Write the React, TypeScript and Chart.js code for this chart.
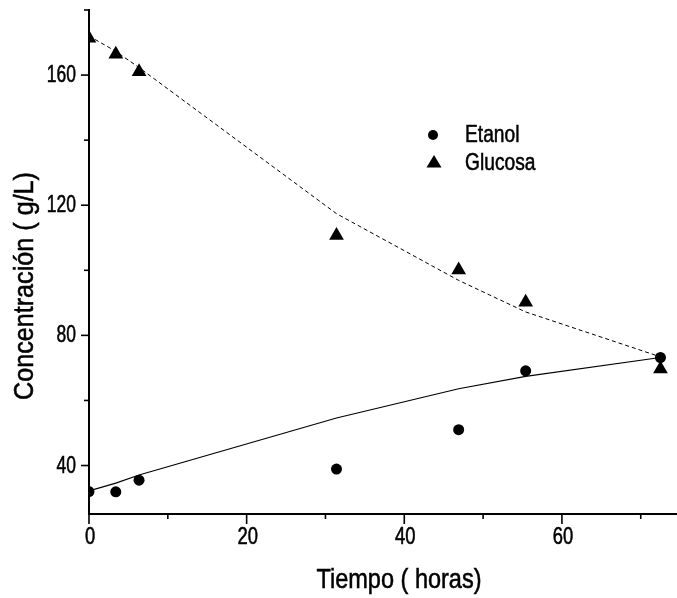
import React, { useEffect, useRef } from 'react';
import { Chart, registerables } from 'chart.js';

Chart.register(...registerables);

// ---- data ----
const tiempo = [0, 3.4, 6.35, 31.4, 46.9, 55.4, 72.5];
const etanol = [32.0, 31.9, 35.5, 38.9, 51.0, 69.1, 73.2];
const glucosa = [171.3, 166.4, 161.0, 110.7, 100.1, 90.2, 69.7];
const etanolAjuste = [32.2, 34.6, 37.1, 54.6, 63.6, 67.4, 73.2];
const glucosaAjuste = [172.0, 167.3, 162.3, 117.4, 96.9, 87.2, 73.4];

const xMajorTicks = [0, 20, 40, 60];
const xTickLabels = ['0', '20', '40', '60'];
const yMajorTicks = [40, 80, 120, 160];
const yTickLabels = ['40', '80', '120', '160'];
const seriesNames = ['Etanol', 'Glucosa'];
const xTitle = 'Tiempo ( horas)';
const yTitle = 'Concentración ( g/L)';

const FAMILY = '"Liberation Sans", Arial, sans-serif';

function drawScaled(ctx: CanvasRenderingContext2D, text: string, x: number, y: number, size: number, sx: number, align: CanvasTextAlign) {
  ctx.save();
  ctx.font = `${size}px ${FAMILY}`;
  ctx.textAlign = align;
  ctx.textBaseline = 'alphabetic';
  ctx.translate(x, y);
  ctx.scale(sx, 1);
  ctx.fillText(text, 0, 0);
  ctx.lineWidth = 0.55;
  ctx.strokeStyle = '#000';
  ctx.strokeText(text, 0, 0);
  ctx.restore();
}

function drawFit(ctx: CanvasRenderingContext2D, text: string, x: number, y: number, size: number, width: number, align: CanvasTextAlign) {
  ctx.save();
  ctx.font = `${size}px ${FAMILY}`;
  const w = ctx.measureText(text).width;
  ctx.restore();
  drawScaled(ctx, text, x, y, size, width / w, align);
}

const decor = {
  id: 'decor',
  afterDraw(chart: any) {
    const { ctx, chartArea: ca, scales } = chart;
    const xs = scales.x;
    const ys = scales.y;
    ctx.save();
    ctx.strokeStyle = '#000';
    ctx.fillStyle = '#000';
    ctx.lineWidth = 1.6;

    // x ticks
    xs.ticks.forEach((t: any) => {
      const px = xs.getPixelForValue(t.value);
      const major = xMajorTicks.includes(t.value);
      ctx.beginPath();
      ctx.moveTo(px, ca.bottom);
      ctx.lineTo(px, ca.bottom + (major ? 10 : 5));
      ctx.stroke();
    });
    // y ticks
    ys.ticks.forEach((t: any) => {
      const py = ys.getPixelForValue(t.value);
      const major = yMajorTicks.includes(t.value);
      ctx.beginPath();
      ctx.moveTo(ca.left, py);
      ctx.lineTo(ca.left - (major ? 8 : 5), py);
      ctx.stroke();
    });

    // tick labels
    xMajorTicks.forEach((v, i) => {
      const px = xs.getPixelForValue(v);
      drawScaled(ctx, xTickLabels[i], px + 1, ca.bottom + 30, 23, 0.8, 'center');
    });
    yMajorTicks.forEach((v, i) => {
      const py = ys.getPixelForValue(v);
      drawScaled(ctx, yTickLabels[i], ca.left - 13, py + 7, 23, 0.76, 'right');
    });

    // axis titles
    drawFit(ctx, xTitle, 399, 588, 28, 165, 'center');
    ctx.save();
    ctx.translate(33, 286);
    ctx.rotate(-Math.PI / 2);
    drawFit(ctx, yTitle, 0, 0, 28, 228, 'center');
    ctx.restore();

    // legend
    ctx.beginPath();
    ctx.arc(433, 135, 5, 0, Math.PI * 2);
    ctx.fill();
    ctx.beginPath();
    ctx.moveTo(434, 155);
    ctx.lineTo(441.5, 167.5);
    ctx.lineTo(426.5, 167.5);
    ctx.closePath();
    ctx.fill();
    drawScaled(ctx, seriesNames[0], 465, 142, 24, 0.8, 'left');
    drawScaled(ctx, seriesNames[1], 465, 170, 24, 0.8, 'left');

    ctx.restore();
  },
};

export default function App() {
  const ref = useRef<HTMLCanvasElement>(null);
  useEffect(() => {
    document.body.style.margin = '0';
    const toXY = (ys: number[]) => tiempo.map((t, i) => ({ x: t, y: ys[i] }));
    const chart = new Chart(ref.current as HTMLCanvasElement, {
      type: 'scatter',
      data: {
        datasets: [
          {
            label: seriesNames[0],
            data: toXY(etanol),
            pointStyle: 'circle',
            pointRadius: 5.5,
            backgroundColor: '#000',
            borderColor: '#000',
            borderWidth: 0,
            clip: 0,
            order: 0,
          },
          {
            label: seriesNames[1],
            data: toXY(glucosa),
            pointStyle: 'triangle',
            pointRadius: 8.5,
            backgroundColor: '#000',
            borderColor: '#000',
            borderWidth: 0,
            clip: 0,
            order: 1,
          },
          {
            label: 'ajuste etanol',
            data: toXY(etanolAjuste),
            showLine: true,
            pointRadius: 0,
            borderColor: '#000',
            borderWidth: 1.2,
            tension: 0,
            clip: 0,
            order: 2,
          },
          {
            label: 'ajuste glucosa',
            data: toXY(glucosaAjuste),
            showLine: true,
            pointRadius: 0,
            borderColor: '#000',
            borderWidth: 1,
            borderDash: [4, 3],
            tension: 0,
            clip: 0,
            order: 3,
          },
        ] as any,
      },
      options: {
        responsive: false,
        animation: false,
        devicePixelRatio: 1,
        layout: { padding: { left: 0, top: 10, right: 0, bottom: 0 }, autoPadding: false },
        plugins: { legend: { display: false }, tooltip: { enabled: false } },
        scales: {
          x: {
            type: 'linear',
            min: 0,
            max: 74.6,
            afterFit: (s: any) => { s.height = 84; },
            ticks: { display: false, stepSize: 10, includeBounds: false },
            grid: { display: false },
            border: { display: true, color: '#000', width: 2 },
          },
          y: {
            type: 'linear',
            min: 25.1,
            max: 180,
            afterFit: (s: any) => { s.width = 89; },
            ticks: { display: false, stepSize: 20, includeBounds: false },
            grid: { display: false },
            border: { display: true, color: '#000', width: 2 },
          },
        },
      } as any,
      plugins: [decor],
    });
    return () => chart.destroy();
  }, []);
  return (
    <div style={{ position: 'absolute', left: 0, top: 0, width: 677, height: 598, background: '#fff' }}>
      <canvas ref={ref} width={677} height={598} style={{ display: 'block', width: 677, height: 598 }} />
    </div>
  );
}
